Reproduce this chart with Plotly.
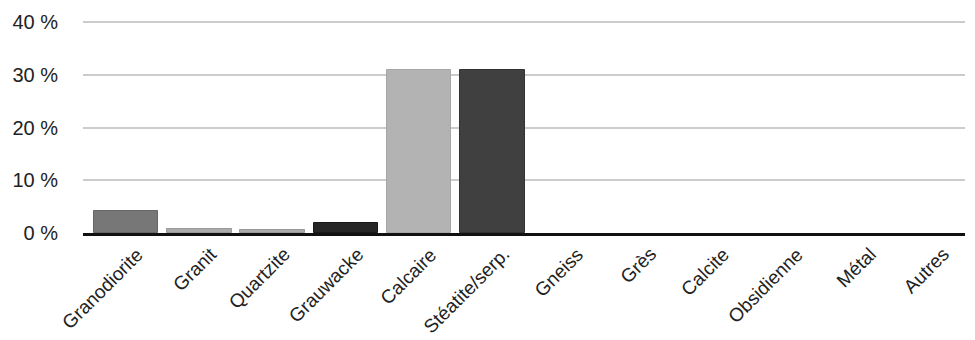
import plotly.graph_objects as go

categories = ["Granodiorite", "Granit", "Quartzite", "Grauwacke", "Calcaire",
              "Stéatite/serp.", "Gneiss", "Grès", "Calcite", "Obsidienne", "Métal", "Autres"]
values = [4.1, 0.7, 0.6, 1.95, 31.0, 31.0, 0, 0, 0, 0, 0, 0]
colors = ["#777777", "#ababab", "#ababab", "#262626", "#b3b3b3", "#404040",
          "#777777", "#777777", "#777777", "#777777", "#777777", "#777777"]
line_colors = ["#666666", "#999999", "#999999", "#1a1a1a", "#a6a6a6", "#333333",
               "#666666", "#666666", "#666666", "#666666", "#666666", "#666666"]
y_ticks = [0, 10, 20, 30, 40]
y_tick_labels = ["0 %", "10 %", "20 %", "30 %", "40 %"]

xs = list(range(len(categories)))
fig = go.Figure(go.Bar(
    x=xs, y=values, width=0.88,
    marker=dict(color=colors,
                line=dict(color=line_colors, width=[1 if v > 0 else 0 for v in values])),
))

for i, name in enumerate(categories):
    fig.add_annotation(
        x=i, y=0, xref="x", yref="paper", text=name, showarrow=False,
        textangle=-45, xanchor="right", yanchor="top",
        xshift=24, yshift=-8,
        font=dict(family="Liberation Sans, Arial, sans-serif", size=19, color="#222222"),
    )

fig.update_layout(
    width=967, height=332,
    margin=dict(l=75, r=10, t=13, b=107, autoexpand=False),
    paper_bgcolor="white", plot_bgcolor="white",
    font=dict(family="Liberation Sans, Arial, sans-serif", size=20, color="#222222"),
    showlegend=False,
    bargap=0,
)
fig.update_xaxes(
    range=[-0.587, 11.45], showticklabels=False, automargin=False,
    showgrid=False, showline=True, linecolor="#111111", linewidth=3,
    ticks="", zeroline=False,
)
fig.update_yaxes(
    range=[0, 40.2], automargin=False,
    tickmode="array", tickvals=y_ticks, ticktext=y_tick_labels,
    showgrid=True, gridcolor="#cccccc", gridwidth=1.5,
    zeroline=False, showline=False, ticks="",
    ticklabelstandoff=24,
)

fig.write_html("out.html")
